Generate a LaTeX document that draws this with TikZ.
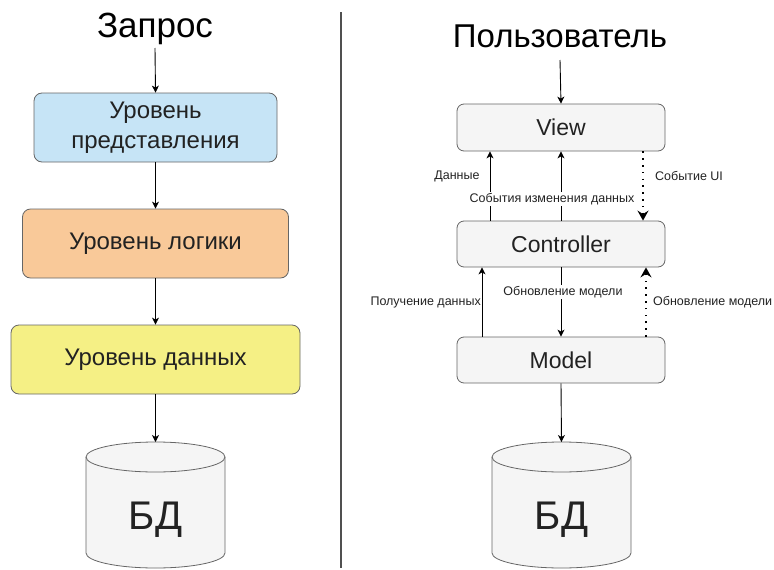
\documentclass[tikz,border=0pt]{standalone}
\usepackage{fontspec}
\setmainfont{Liberation Sans}
\usetikzlibrary{arrows.meta,calc}
\definecolor{bluefill}{RGB}{198,228,246}
\definecolor{orangefill}{RGB}{249,201,153}
\definecolor{yellowfill}{RGB}{245,240,133}
\definecolor{grayfill}{RGB}{245,245,245}
\definecolor{bordergray}{RGB}{102,102,102}
\definecolor{txt}{RGB}{34,34,34}
\definecolor{divider}{RGB}{80,80,80}
\begin{document}
\begin{tikzpicture}[x=1pt,y=-1pt,
  layerbox/.style={draw=bordergray, line width=0.8pt, rounded corners=8pt, minimum height=69pt, text=txt, font=\fontsize{24}{30}\selectfont, align=center},
  mvcbox/.style={draw=bordergray, fill=grayfill, line width=0.8pt, rounded corners=7pt, minimum width=208pt, minimum height=46pt, text=txt, font=\fontsize{23}{27}\selectfont},
  titletext/.style={font=\fontsize{33}{38}\selectfont, inner sep=0pt, anchor=base},
  smalllabel/.style={font=\fontsize{12.5}{14}\selectfont, text=txt, inner sep=1pt},
  dblabel/.style={font=\fontsize{40}{44}\selectfont, text=txt},
  cylshape/.style={draw=bordergray, fill=grayfill, line width=0.8pt},
  flow/.style={draw=black, line width=0.9pt, -{Stealth[length=7pt,width=7pt,inset=2pt]}},
  dotflow/.style={draw=black, line width=1.6pt, dash pattern=on 1.6pt off 5.2pt, -{Stealth[length=10pt,width=11pt,inset=3.5pt]}},
]
\useasboundingbox (0,0) rectangle (774,570);

% divider
\draw[divider, line width=1.5pt] (341,12) -- (341,568);

% ---------- left column ----------
\node[titletext, font=\fontsize{35}{40}\selectfont] (t1) at (155,37) {Запрос};
\node[layerbox, fill=bluefill, minimum width=243pt] (b1) at (155.5,127.5) {Уровень\\представления};
\node[layerbox, fill=orangefill, minimum width=266pt] (b2) at (155.5,243.5) {Уровень логики};
\node[layerbox, fill=yellowfill, minimum width=289pt] (b3) at (155.5,359.5) {Уровень данных};

\path[cylshape] (86,457) -- (86,553) arc[start angle=180,end angle=360,x radius=69.5pt,y radius=15pt] -- (225,457) arc[start angle=0,end angle=180,x radius=69.5pt,y radius=15pt] -- cycle;
\draw[bordergray, line width=0.8pt] (86,457) arc[start angle=180,end angle=360,x radius=69.5pt,y radius=15pt];
\coordinate (db1top) at (155.5,442);
\node[dblabel] (db1) at (155.5,520) {БД};

\draw[flow] ([yshift=-11pt]t1.base) -- (b1.north);
\draw[flow] (b1.south) -- (b2.north);
\draw[flow] (b2.south) -- (b3.north);
\draw[flow] (b3.south) -- (db1top);

% ---------- right column ----------
\node[titletext] (t2) at (560,47) {Пользователь};
\node[mvcbox, minimum height=47pt] (view) at (561,127.5) {View};
\node[mvcbox] (ctrl) at (561,244) {Controller};
\node[mvcbox] (model) at (561,360) {Model};

\path[cylshape] (492,457) -- (492,553) arc[start angle=180,end angle=360,x radius=69.5pt,y radius=15pt] -- (631,457) arc[start angle=0,end angle=180,x radius=69.5pt,y radius=15pt] -- cycle;
\draw[bordergray, line width=0.8pt] (492,457) arc[start angle=180,end angle=360,x radius=69.5pt,y radius=15pt];
\coordinate (db2top) at (561.5,442);
\node[dblabel] (db2) at (561.5,520) {БД};

\draw[flow] ([yshift=-13pt]t2.base) -- (view.north);

% view <-> controller
\draw[flow] ([xshift=-71pt]ctrl.north) -- ([xshift=-71pt]view.south);
\draw[flow] (ctrl.north) -- (view.south);
\draw[dotflow] ([xshift=82pt]view.south) -- ([xshift=82pt]ctrl.north);
\node[smalllabel] (lbl1) at (457,176) {Данные};
\node[smalllabel, anchor=west] (lbl2) at (654,176) {Событие UI};
\node[smalllabel, fill=white] (lbl3) at (552,199) {События изменения данных};

% controller <-> model
\draw[flow] ([xshift=-79pt]model.north) -- ([xshift=-79pt]ctrl.south);
\draw[flow] (ctrl.south) -- (model.north);
\draw[dotflow] ([xshift=85pt]model.north) -- ([xshift=85pt]ctrl.south);
\node[smalllabel, anchor=east, inner sep=0pt] (lbl4) at (481,302) {Получение данных};
\node[smalllabel, fill=white] (lbl5) at (563,292) {Обновление модели};
\node[smalllabel, anchor=west] (lbl6) at (652,302) {Обновление модели};

\draw[flow] (model.south) -- (db2top);
\end{tikzpicture}
\end{document}
